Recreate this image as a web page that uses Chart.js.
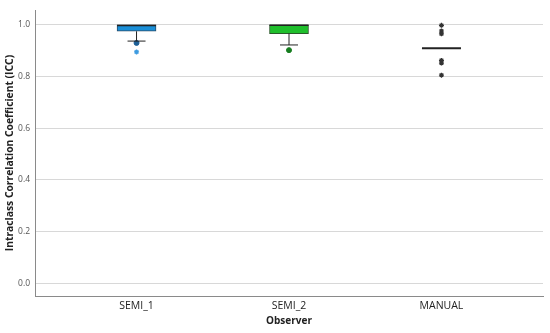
<!DOCTYPE html>
<html>
<head>
<meta charset="utf-8">
<script src="https://cdn.jsdelivr.net/npm/chart.js@4.4.1/dist/chart.umd.min.js"></script>
<style>
  html, body { margin: 0; padding: 0; background: #fff; }
  #wrap { width: 550px; height: 333px; }
</style>
</head>
<body>
<div id="wrap"><canvas id="boxChart"></canvas></div>
<script>
// ICC per observer
const observers = ["SEMI_1", "SEMI_2", "MANUAL"];
const q1Values = [0.975, 0.966, 0.909];
const medianValues = [0.997, 0.998, 0.909];
const q3Values = [1.0, 1.0, 0.909];
const lowWhisker = [0.937, 0.922, 0.909];
const highWhisker = [1.0, 1.0, 0.909];
const outlierCircles = [[0.930], [0.902], []];
const outlierStars = [[0.895], [], [0.998, 0.976, 0.965, 0.862, 0.852, 0.805]];
const yTicks = [0.0, 0.2, 0.4, 0.6, 0.8, 1.0];

const boxFill = ['#1a8fd8', '#1fbf2c', 'rgba(0,0,0,0)'];
const circleFill = ['#1c5f96', '#167d1f', '#333'];
const starColor = ['#3d9be0', '#1fbf2c', '#333'];

Chart.defaults.font.family = "'Open Sans', 'DejaVu Sans', sans-serif";

// whiskers, caps and medians
const boxExtras = {
    id: 'boxExtras',
    afterDatasetsDraw(chart) {
        const ctx = chart.ctx;
        const xs = chart.scales.x, ys = chart.scales.y;
        ctx.save();
        observers.forEach((o, i) => {
            const cx = xs.getPixelForValue(i);
            ctx.strokeStyle = '#222';
            ctx.lineWidth = 1;
            if (lowWhisker[i] < q1Values[i]) {
                ctx.beginPath();
                ctx.moveTo(cx, ys.getPixelForValue(q1Values[i]));
                ctx.lineTo(cx, ys.getPixelForValue(lowWhisker[i]));
                ctx.moveTo(cx - 9, ys.getPixelForValue(lowWhisker[i]));
                ctx.lineTo(cx + 9, ys.getPixelForValue(lowWhisker[i]));
                ctx.stroke();
            }
            ctx.lineWidth = i < 2 ? 1.5 : 2;
            ctx.beginPath();
            ctx.moveTo(cx - 19.5, ys.getPixelForValue(medianValues[i]));
            ctx.lineTo(cx + 19.5, ys.getPixelForValue(medianValues[i]));
            ctx.stroke();
        });
        ctx.restore();
    }
};

const circlePoints = [], circleColors = [];
const starPoints = [], starColors = [];
observers.forEach((o, i) => {
    outlierCircles[i].forEach(v => { circlePoints.push({x: i, y: v}); circleColors.push(circleFill[i]); });
    outlierStars[i].forEach(v => { starPoints.push({x: i, y: v}); starColors.push(starColor[i]); });
});

const ctx = document.getElementById('boxChart').getContext('2d');
const boxChart = new Chart(ctx, {
    type: 'bar',
    data: {
        datasets: [{
            label: 'IQR',
            data: observers.map((o, i) => ({x: i, y: [q1Values[i], q3Values[i]]})),
            backgroundColor: boxFill,
            borderColor: ['#2a4a66', '#2a5a2a', 'rgba(0,0,0,0)'],
            borderWidth: 1,
            borderSkipped: false,
            barThickness: 39
        }, {
            type: 'scatter',
            label: 'outliers',
            data: circlePoints,
            pointStyle: 'circle',
            pointRadius: 2.5,
            backgroundColor: circleColors,
            borderColor: circleColors,
            borderWidth: 1
        }, {
            type: 'scatter',
            label: 'extremes',
            data: starPoints,
            pointStyle: 'star',
            pointRadius: 2.5,
            borderColor: starColors,
            borderWidth: 1.2
        }]
    },
    options: {
        responsive: true,
        maintainAspectRatio: false,
        animation: false,
        layout: { padding: { top: 5, right: 7, bottom: 0, left: 0 } },
        plugins: { legend: { display: false }, tooltip: { enabled: false } },
        scales: {
            x: {
                type: 'linear',
                offset: false,
                min: -0.666,
                max: 2.666,
                afterBuildTicks: s => { s.ticks = observers.map((o, i) => ({value: i})); },
                afterFit: s => { s.height = 37; },
                ticks: {
                    callback: (v, i) => observers[i],
                    color: '#222',
                    font: { size: 10.5 },
                    padding: 4,
                    maxRotation: 0
                },
                grid: { display: false, drawTicks: false },
                border: { color: '#8a8a8a' },
                title: {
                    display: true,
                    text: 'Observer',
                    color: '#222',
                    font: { size: 10, weight: 'bold' },
                    padding: { top: 0, bottom: 6 }
                }
            },
            y: {
                min: -0.05,
                max: 1.057,
                afterBuildTicks: s => { s.ticks = yTicks.map(v => ({value: v})); },
                afterFit: s => { s.width = 35; },
                ticks: {
                    callback: v => v.toFixed(1),
                    color: '#555',
                    font: { size: 8.5 },
                    padding: 5
                },
                grid: { color: '#d8d8d8', drawTicks: false },
                border: { color: '#8a8a8a' },
                title: {
                    display: true,
                    text: 'Intraclass Correlation Coefficient (ICC)',
                    color: '#222',
                    font: { size: 10.3, weight: 'bold' },
                    padding: { top: 4, bottom: 0 }
                }
            }
        }
    },
    plugins: [boxExtras]
});
</script>
</body>
</html>
